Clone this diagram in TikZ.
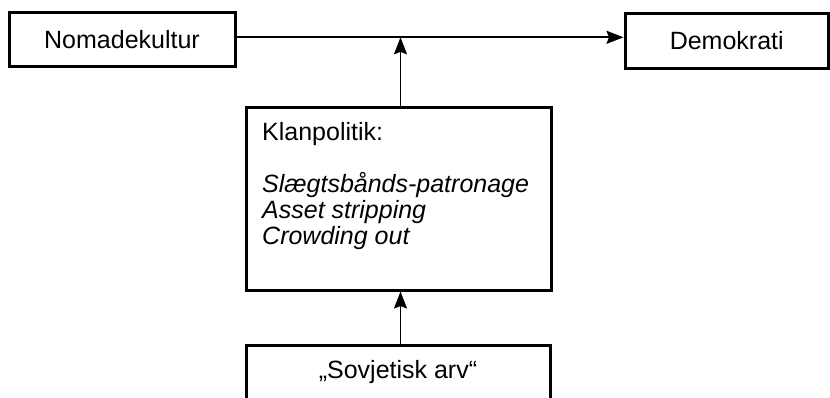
\documentclass[tikz,border=0pt]{standalone}
\usepackage{fontspec}
\setmainfont{Liberation Sans}
\usetikzlibrary{arrows.meta}
\begin{document}
\begin{tikzpicture}[x=1pt,y=-1pt,
  box/.style={draw=black, line width=3pt, fill=white, inner sep=0pt, font=\fontsize{25}{26}\selectfont},
  conn/.style={draw=black, line width=1.7pt, -{Stealth[length=17pt,width=13pt,inset=2.5pt]}},
  txt/.style={inner sep=0pt, font=\fontsize{25}{26}\selectfont, align=left}]
\useasboundingbox (0,0) rectangle (830,397);
\clip (0,0) rectangle (830,397);
\fill[white] (0,0) rectangle (830,397);
\node[box, minimum width=226pt, minimum height=54pt] (nomad) at (122,39.5) {Nomadekultur};
\node[box, minimum width=203.5pt, minimum height=55pt] (demo) at (726.75,40.5) {Demokrati};
\node[box, minimum width=305pt, minimum height=183pt] (klan) at (398.5,198.5) {};
\node[txt, anchor=north west] (klantxt) at (262,122) {Klanpolitik:\\[26pt]\textit{Slægtsbånds-patronage}\\\textit{Asset stripping}\\\textit{Crowding out}};
\node[box, minimum width=304pt, minimum height=54pt] (sov) at (398,372) {„Sovjetisk arv“};
\coordinate (j) at (400.5,37.3);
\draw[conn] (nomad.east |- j) -- (demo.west |- j);
\draw[conn] (klan.north -| j) -- (j);
\draw[conn] (sov.north -| j) -- (klan.south -| j);
\end{tikzpicture}
\end{document}
